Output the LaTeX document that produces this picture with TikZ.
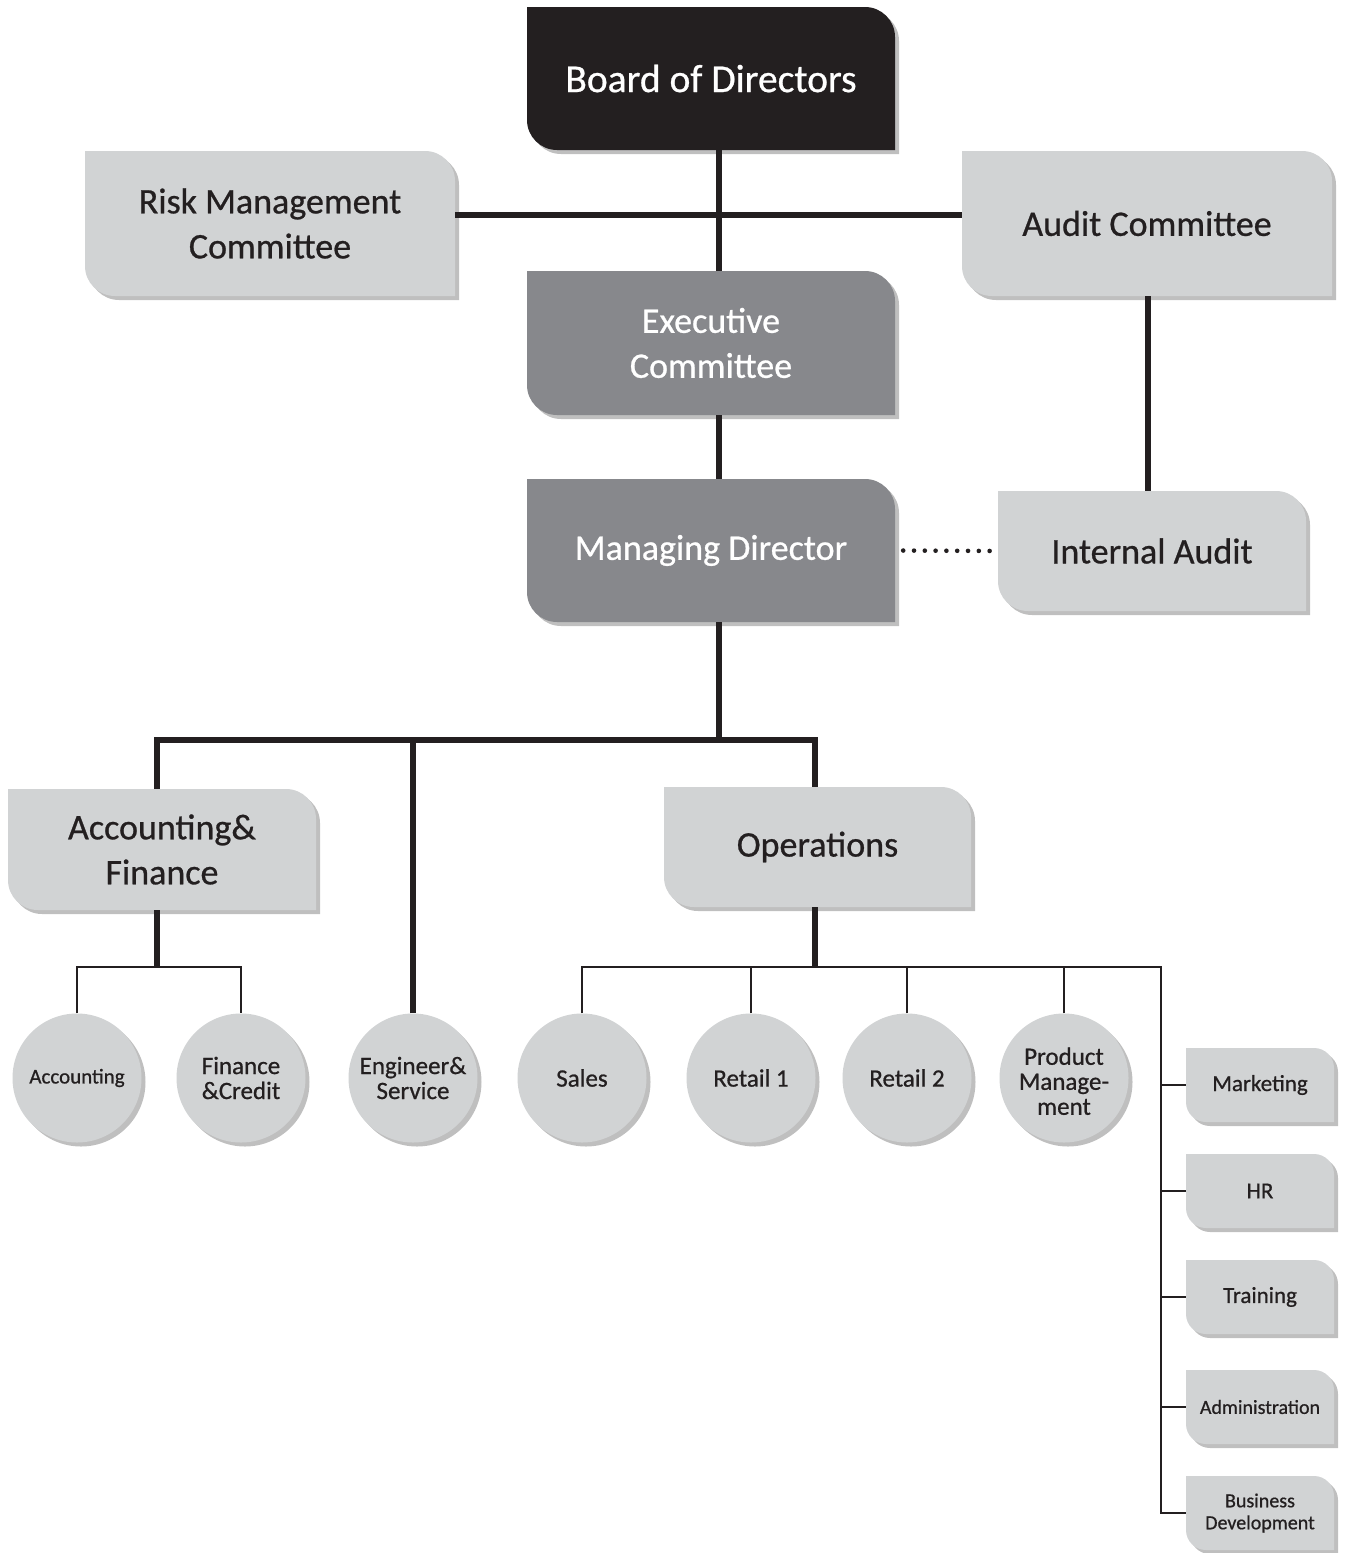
\documentclass[tikz,border=0pt]{standalone}
\usepackage{fontspec}
\setmainfont{Carlito}[FakeBold=0.7]
\usetikzlibrary{shadows,calc}
\definecolor{ink}{HTML}{231F20}
\definecolor{midgray}{HTML}{87888C}
\definecolor{lightgray}{HTML}{D1D3D4}
\tikzset{
  boxshadow/.style={drop shadow={shadow xshift=4pt, shadow yshift=-4pt, opacity=0.25, fill=black}},
  dark/.style={fill=ink},
  mid/.style={fill=midgray},
  light/.style={fill=lightgray},
  bigtxt/.style={align=center, inner sep=0pt, font=\fontsize{36}{45}\selectfont},
  darktxt/.style={bigtxt, text=white, font=\fontsize{39.5}{45}\selectfont},
  midtxt/.style={bigtxt, text=white},
  lighttxt/.style={bigtxt, text=ink},
  smalltxt/.style={align=center, inner sep=0pt, text=ink, font=\fontsize{23}{25}\selectfont},
  circ/.style={circle, fill=lightgray, boxshadow, minimum size=129pt, inner sep=0pt, align=center, text=ink, font=\fontsize{25}{25}\selectfont},
  thickline/.style={draw=ink, line width=5.2pt},
  thinline/.style={draw=ink, line width=2.8pt},
}
% #1 radius, #2 name, #3 x1, #4 y1, #5 x2, #6 y2, #7 style, #8 extra node options, #9 text
\newcommand\orgbox[9][30]{%
  \fill[#7, boxshadow] (#3,#4) -- ({#5-#1},#4)
    .. controls ({#5-0.448*#1},#4) and (#5,{#4+0.448*#1}) .. (#5,{#4+#1})
    -- (#5,#6) -- ({#3+#1},#6)
    .. controls ({#3+0.448*#1},#6) and (#3,{#6-0.448*#1}) .. (#3,{#6-#1}) -- cycle;
  \node[#7txt, minimum width={(#5-#3)*1pt}, minimum height={(#6-#4)*1pt}, #8] (#2) at ({(#3+#5)/2},{(#4+#6)/2}) {#9};
}
\begin{document}
\begin{tikzpicture}[x=1pt, y=-1pt]
\useasboundingbox (0,0) rectangle (1346,1553);
\fill[white] (0,0) rectangle (1346,1553);

% boxes
\orgbox{bod}{527}{7}{895}{150}{dark}{}{Board of Directors}
\orgbox{risk}{85}{151}{455}{296}{light}{}{Risk Management\\Committee}
\orgbox{audit}{962}{151}{1332}{296}{light}{}{Audit Committee}
\orgbox{exec}{527}{271}{895}{415}{mid}{}{Executive\\Committee}
\orgbox{md}{527}{479}{895}{622}{mid}{}{Managing Director}
\orgbox{ia}{998}{491}{1306}{611}{light}{}{Internal Audit}
\orgbox{af}{8}{789}{316}{910}{light}{}{Accounting\&\\Finance}
\orgbox{ops}{664}{787}{971}{907}{light}{}{Operations}

\tikzset{lighttxt/.style={smalltxt}}
\orgbox[20]{mkt}{1186}{1048}{1334}{1122}{light}{}{Marketing}
\orgbox[20]{hr}{1186}{1154}{1334}{1228}{light}{}{HR}
\orgbox[20]{trn}{1186}{1260}{1334}{1334}{light}{}{Training}
\orgbox[20]{adm}{1186}{1370}{1334}{1444}{light}{font=\fontsize{20}{22}\selectfont}{Administration}
\orgbox[20]{bd}{1186}{1476}{1334}{1550}{light}{font=\fontsize{20}{22}\selectfont}{Business\\Development}

% circles
\node[circ, font=\fontsize{21}{23}\selectfont] (acc) at (77,1078) {Accounting};
\node[circ] (fin) at (241,1078) {Finance\\\&Credit};
\node[circ] (eng) at (413,1078) {Engineer\&\\Service};
\node[circ] (sales) at (582,1078) {Sales};
\node[circ] (r1) at (751,1078) {Retail 1};
\node[circ] (r2) at (907,1078) {Retail 2};
\node[circ] (pm) at (1064,1078) {\raisebox{-13pt}[0pt][0pt]{\begin{tabular}{@{}c@{}}Product\\Manage-\\ment\end{tabular}}};

% junction coordinates
\coordinate (spine) at (719,0);
\coordinate (acol) at (1148,0);
\coordinate (hub) at (719,740);
\coordinate (busL) at (157,740);
\coordinate (busR) at (815,740);
\coordinate (abus) at (157,967);
\coordinate (obus) at (815,967);
\coordinate (rbus) at (1161,967);

% connectors
\draw[thickline] (bod.south -| spine) -- (exec.north -| spine);
\draw[thickline] ([yshift=8.5pt]risk.east) -- ([yshift=8.5pt]audit.west);
\draw[thickline] (exec.south -| spine) -- (md.north -| spine);
\draw[thickline] (audit.south -| acol) -- (ia.north -| acol);
\draw[ink, line width=4.6pt, line cap=round, dash pattern=on 0pt off 10.8pt, shorten <=8pt, shorten >=5pt] (md.east) -- (ia.west);
\draw[thickline] (md.south -| spine) -- (hub);
\draw[thickline] (busL |- af.north) -- (busL) -- (busR) -- (busR |- ops.north);
\draw[thickline] (eng.north) -- (eng.north |- hub);
\draw[thickline] (busL |- af.south) -- (abus);
\draw[thinline] (acc.north) -- (acc.north |- abus) -- (fin.north |- abus) -- (fin.north);
\draw[thickline] (busR |- ops.south) -- (obus);
\draw[thinline] (sales.north) -- (sales.north |- obus) -- (rbus) -- (rbus |- bd.west) -- (bd.west);
\draw[thinline] (r1.north) -- (r1.north |- obus);
\draw[thinline] (r2.north) -- (r2.north |- obus);
\draw[thinline] (pm.north) -- (pm.north |- obus);
\draw[thinline] (rbus |- mkt.west) -- (mkt.west);
\draw[thinline] (rbus |- hr.west) -- (hr.west);
\draw[thinline] (rbus |- trn.west) -- (trn.west);
\draw[thinline] (rbus |- adm.west) -- (adm.west);
\end{tikzpicture}
\end{document}
